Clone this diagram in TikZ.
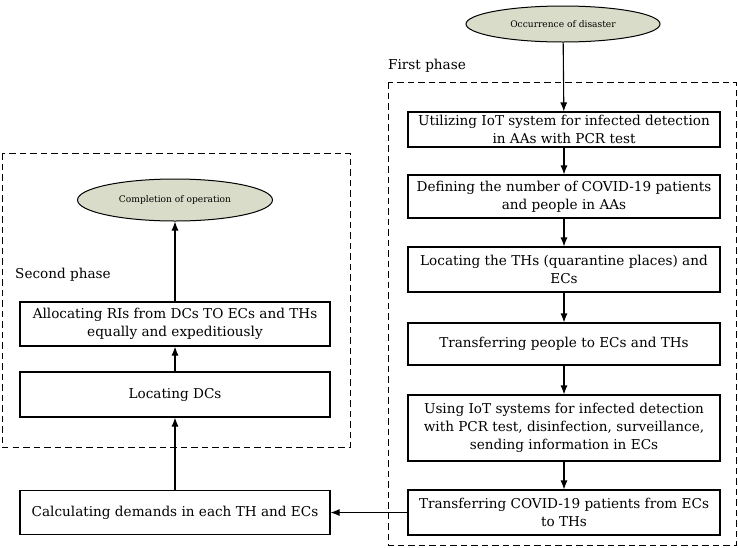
\documentclass[tikz,border=0pt]{standalone}
\usepackage{fontspec}
\setmainfont{DejaVu Serif}
\usetikzlibrary{arrows.meta,shapes.geometric}
\definecolor{ellfill}{RGB}{216,220,200}
\begin{document}
\begin{tikzpicture}[x=1pt,y=-1pt,
  stepbox/.style={draw,line width=1.1pt,align=center,inner sep=0pt,font=\fontsize{13.6}{17.7}\selectfont},
  oval/.style={draw,ellipse,line width=1pt,fill=ellfill,inner sep=0pt,font=\fontsize{9.1}{11}\selectfont},
  phase/.style={draw,dashed,dash pattern=on 6.5pt off 4pt,line width=1pt},
  plabel/.style={anchor=west,inner sep=0pt,font=\fontsize{13.6}{16}\selectfont},
  arr/.style={-{Latex[length=9pt,width=7pt]},line width=1.1pt}]
\useasboundingbox (0,0) rectangle (738,547);
% phase frames
\draw[phase] (388,82) rectangle (736,545);
\draw[phase] (2,153) rectangle (350,447);
\node[plabel] (fp) at (388,66) {First phase};
\node[plabel] (sp) at (15,275) {Second phase};
% first phase
\node[oval,minimum width=194pt,minimum height=36pt] (occ) at (563,24) {Occurrence of disaster};
\node[stepbox,minimum width=312pt,minimum height=35pt] (b1) at (564,129.5) {Utilizing IoT system for infected detection\\in AAs with PCR test};
\node[stepbox,minimum width=312pt,minimum height=43pt] (b2) at (564,196.5) {Defining the number of COVID-19 patients\\and people in AAs};
\node[stepbox,minimum width=312pt,minimum height=45pt] (b3) at (564,269.5) {Locating the THs (quarantine places) and\\ECs};
\node[stepbox,minimum width=312pt,minimum height=42pt] (b4) at (564,344) {Transferring people to ECs and THs};
\node[stepbox,minimum width=312pt,minimum height=66pt] (b5) at (564,428) {Using IoT systems for infected detection\\with PCR test, disinfection, surveillance,\\sending information in ECs};
\node[stepbox,minimum width=312pt,minimum height=45pt] (b6) at (564,512.5) {Transferring COVID-19 patients from ECs\\to THs};
% second phase
\node[oval,minimum width=195pt,minimum height=42pt] (comp) at (175,200) {Completion of operation};
\node[stepbox,minimum width=310pt,minimum height=44pt] (alloc) at (175,324) {Allocating RIs from DCs TO ECs and THs\\equally and expeditiously};
\node[stepbox,minimum width=310pt,minimum height=45pt] (locdc) at (175,394.5) {Locating DCs};
\node[stepbox,minimum width=310pt,minimum height=44pt] (calc) at (175,512.5) {Calculating demands in each TH and ECs};
% connectors
\draw[arr] (occ) -- (b1);
\draw[arr] (b1) -- (b2);
\draw[arr] (b2) -- (b3);
\draw[arr] (b3) -- (b4);
\draw[arr] (b4) -- (b5);
\draw[arr] (b5) -- (b6);
\draw[arr] (b6) -- (calc);
\draw[arr] (calc) -- (locdc);
\draw[arr] (locdc) -- (alloc);
\draw[arr] (alloc) -- (comp);
\end{tikzpicture}
\end{document}
